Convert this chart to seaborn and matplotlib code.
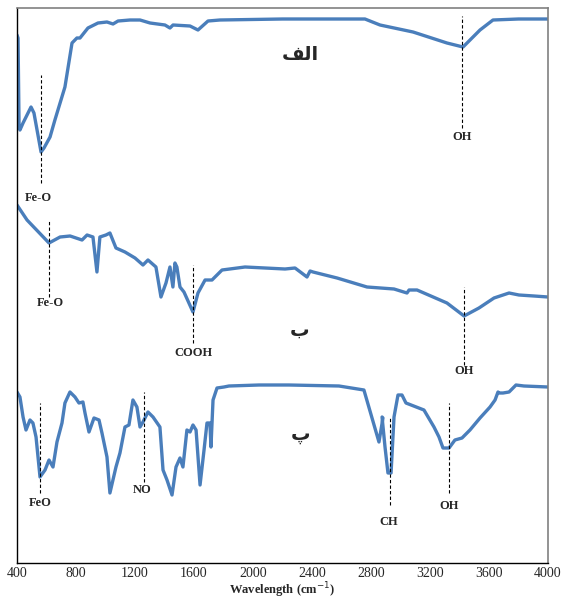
import numpy as np
import pandas as pd
import matplotlib
matplotlib.use("Agg")
import matplotlib.pyplot as plt
import seaborn as sns

# ---------- data (height above the bottom axis) ----------
wn_a = [400, 407, 414, 420, 441, 495, 515, 563, 583, 624, 657, 725, 773, 806, 827, 881, 949,
        1010, 1051, 1085, 1166, 1234, 1302, 1403, 1437, 1458, 1573, 1627, 1695, 1776,
        2200, 2759, 2861, 3085, 3315, 3424, 3539, 3627, 3800, 4000]
tr_a = [566, 563, 474, 471, 478, 494, 488, 449, 453, 464, 481, 514, 558, 563, 563, 573, 578,
        579, 577, 580, 581, 581, 578, 576, 573, 576, 575, 571, 580, 581,
        582, 582, 576, 569, 558, 554, 571, 581, 582, 582]

wn_b = [400, 468, 617, 692, 760, 841, 875, 915, 942, 962, 1003, 1030, 1071, 1132, 1200,
        1254, 1288, 1342, 1376, 1410, 1437, 1457, 1471, 1484, 1505, 1532, 1593, 1627, 1675,
        1722, 1790, 1946, 2217, 2285, 2366, 2387, 2407, 2570, 2773, 2956, 3044, 3058,
        3112, 3315, 3431, 3532, 3634, 3736, 3803, 3905, 4000]
tr_b = [396, 381, 358, 364, 365, 361, 366, 364, 329, 364, 366, 368, 353, 349, 343,
        336, 341, 334, 304, 318, 334, 314, 338, 334, 314, 309, 289, 308, 321,
        321, 331, 334, 332, 333, 324, 330, 329, 323, 314, 312, 308, 311,
        311, 298, 285, 293, 303, 308, 306, 305, 304]

wn_c = [400, 420, 441, 461, 488, 508, 529, 556, 590, 617, 644, 671, 705, 725, 759, 793,
        820, 847, 861, 888, 922, 956, 976, 1010, 1030, 1071, 1098, 1132, 1159, 1186,
        1213, 1234, 1254, 1288, 1322, 1369, 1390, 1417, 1451, 1478, 1505, 1525, 1552,
        1573, 1593, 1614, 1641, 1668, 1688, 1708, 1715, 1729, 1756, 1803, 1837, 2041,
        2244, 2583, 2752, 2854, 2881, 2875, 2895, 2915, 2936, 2956, 2983, 3010, 3037,
        3159, 3227, 3261, 3288, 3329, 3369, 3417, 3471, 3539, 3607, 3641, 3661, 3668,
        3695, 3736, 3783, 3837, 4000]
tr_c = [209, 204, 184, 171, 181, 178, 164, 124, 131, 141, 134, 159, 178, 198, 209, 204,
        198, 199, 188, 169, 183, 181, 168, 144, 108, 134, 148, 174, 176, 201,
        194, 174, 179, 189, 184, 174, 131, 121, 106, 134, 143, 134, 171,
        169, 176, 171, 116, 151, 178, 178, 154, 201, 213, 214, 215, 216,
        216, 215, 211, 159, 183, 184, 154, 128, 128, 184, 206, 206, 198,
        191, 174, 164, 153, 153, 161, 163, 171, 183, 194, 201, 209, 208,
        208, 209, 216, 215, 214]

series_names = ["a", "b", "c"]
series_labels = ["الف", "ب", "پ"]
# glyphs in visual order (matplotlib does no arabic shaping)
series_shown = ["\ufed2\ufedf\ufe8d", "\ufe8f", "\ufb56"]
series_label_pos = [(2319, 546), (2319, 271), (2319, 166)]

# dashed peak markers: wavenumber, line bottom, line top, label, label position
peak_wn = [563, 3417, 617, 1593, 3431, 556, 1261, 2929, 3329]
peak_lo = [418, 473, 304, 258, 236, 108, 119, 96, 108]
peak_hi = [526, 585, 381, 336, 314, 198, 209, 184, 198]
peak_txt = ["Fe-O", "OH", "Fe-O", "COOH", "OH", "FeO", "NO", "CH", "OH"]
peak_txt_x = [542, 3417, 624, 1593, 3431, 556, 1247, 2922, 3329]
peak_txt_y = [403, 464, 298, 248, 230, 98, 111, 79, 95]

xticks = list(range(400, 4001, 400))

df = pd.concat([
    pd.DataFrame({"wn": wn_a, "tr": tr_a, "sample": "a"}),
    pd.DataFrame({"wn": wn_b, "tr": tr_b, "sample": "b"}),
    pd.DataFrame({"wn": wn_c, "tr": tr_c, "sample": "c"}),
], ignore_index=True)

sns.set_style("white")
plt.rcParams["font.family"] = ["Liberation Serif", "DejaVu Sans"]

fig = plt.figure(figsize=(5.63, 6.01), dpi=100)
ax = fig.add_axes([17 / 563, 38 / 601, 531 / 563, 555 / 601])

line_color = "#4a7ebb"
for name in series_names:
    sns.lineplot(data=df[df["sample"] == name], x="wn", y="tr", ax=ax,
                 color=line_color, linewidth=2.4, estimator=None, sort=False)

for wn, lo, hi, txt, tx, ty in zip(peak_wn, peak_lo, peak_hi, peak_txt, peak_txt_x, peak_txt_y):
    ax.vlines(wn, lo, hi, colors="black", linestyles=(0, (3, 2)), linewidth=0.8)
    ax.text(tx, ty, txt, ha="center", va="center", fontsize=9, fontweight="bold")

for shown, (lx, ly) in zip(series_shown, series_label_pos):
    ax.text(lx, ly, shown, ha="center", va="center", fontsize=14, fontweight="bold",
            family=["DejaVu Sans"])

ax.set_xlim(400, 4000)
ax.set_ylim(38, 593)
ax.set_xticks(xticks)
ax.set_xticklabels([str(t) for t in xticks], fontsize=10)
ax.set_yticks([])
ax.tick_params(axis="x", direction="inout", length=4, width=0.8, pad=1)
ax.set_xlabel("Wavelength (cm$^{-1}$)", fontsize=9, fontweight="bold", va="center")
ax.xaxis.set_label_coords(0.5, -27 / 555)
ax.set_ylabel("")

for side in ["left", "bottom"]:
    ax.spines[side].set_color("black")
    ax.spines[side].set_linewidth(1.0)
for side in ["top", "right"]:
    ax.spines[side].set_color("#808080")
    ax.spines[side].set_linewidth(1.2)

fig.savefig("out.png", dpi=100)
